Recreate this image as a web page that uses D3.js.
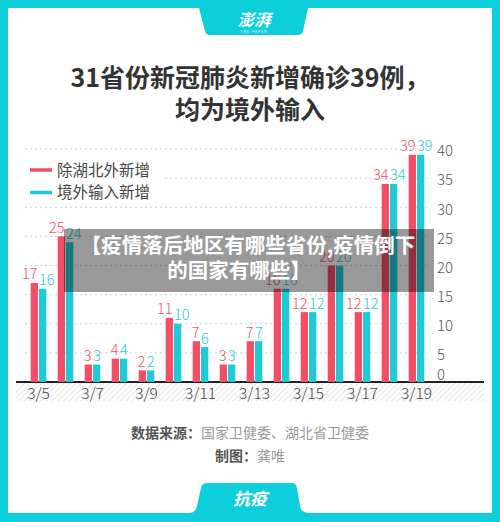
<!DOCTYPE html>
<html><head><meta charset="utf-8">
<script src="https://cdn.jsdelivr.net/npm/d3@7"></script>
<style>body{margin:0;background:#fff}svg{display:block}text{font-family:"Noto Sans CJK SC","Noto Sans",sans-serif}</style>
</head><body><svg id="c" width="500" height="522"></svg>
<script>
const dates = ["3/5","3/6","3/7","3/8","3/9","3/10","3/11","3/12","3/13","3/14","3/15","3/16","3/17","3/18","3/19"];
const domesticNew = [17,25,3,4,2,11,7,3,7,16,12,20,12,34,39];
const importedNew = [16,24,3,4,2,10,6,3,7,16,12,20,12,34,39];
const seriesNames = ["除湖北外新增","境外输入新增"];
const yTicks = [0,5,10,15,20,25,30,35,40];
const xTickLabels = ["3/5","3/7","3/9","3/11","3/13","3/15","3/17","3/19"];

const RED="#f24f66", CYAN="#1fcad6", FRAME="#0ccfdb";
const svg=d3.select("#c");
const defs=svg.append("defs");
const pat=defs.append("pattern").attr("id","hatch").attr("patternUnits","userSpaceOnUse").attr("width",4).attr("height",4).attr("patternTransform","rotate(45)");
pat.append("line").attr("x1",0).attr("y1",0).attr("x2",0).attr("y2",4).attr("stroke","#d4d4d4").attr("stroke-width",1.2);

// frame
svg.append("rect").attr("width",500).attr("height",522).attr("fill",FRAME);
svg.append("rect").attr("x",8).attr("y",8).attr("width",484).attr("height",505).attr("fill","#fff");
// top tab
svg.append("path").attr("d","M199,8 L308,8 L303,31 Q302,35 298,35 L210,35 Q206,35 205,31 Z").attr("fill",FRAME);
svg.append("text").attr("x",254).attr("y",25.5).attr("text-anchor","middle").attr("fill","#fff").attr("font-size",16.5).attr("font-weight","bold").attr("font-style","italic").text("澎湃");
svg.append("text").attr("x",254).attr("y",33).attr("text-anchor","middle").attr("fill","#fff").attr("font-size",3.5).attr("letter-spacing",1).text("THE PAPER");
// bottom tab
svg.append("path").attr("d","M190,513 Q196,512 197,506 L201,488 Q202,483 207,483 L292,483 Q296,483 297,488 L300,506 Q301,512 308,513 Z").attr("fill",FRAME);
svg.append("text").attr("x",250).attr("y",505).attr("text-anchor","middle").attr("fill","#fff").attr("font-size",17).attr("font-weight","bold").attr("font-style","italic").text("抗疫");

// title
svg.append("text").attr("x",250).attr("y",87).attr("text-anchor","middle").attr("fill","#333").attr("font-size",25).attr("font-weight","bold").text("31省份新冠肺炎新增确诊39例，");
svg.append("text").attr("x",250).attr("y",119).attr("text-anchor","middle").attr("fill","#333").attr("font-size",25).attr("font-weight","bold").text("均为境外输入");

// scales
const x=d3.scaleBand().domain(dates).range([25,430]).padding(0);
const y=d3.scaleLinear().domain([0,40]).range([382,149]);
const xs=d3.scaleBand().domain(seriesNames).range([-7.8,7.8]).paddingInner(0.12);

// hatch + gridlines
svg.append("rect").attr("x",16).attr("y",382).attr("width",468).attr("height",19).attr("fill","url(#hatch)");
svg.append("g").selectAll("line").data(yTicks.filter(d=>d>0)).join("line")
 .attr("x1",25).attr("x2",430).attr("y1",d=>y(d)).attr("y2",d=>y(d))
 .attr("stroke","#cfcfcf").attr("stroke-width",1).attr("stroke-dasharray","2,3");

// y axis (right)
const ya=svg.append("g").attr("transform","translate(437,0)").call(d3.axisRight(y).tickValues(yTicks).tickSize(0).tickPadding(0));
ya.select(".domain").remove();
ya.selectAll("text").attr("font-size",15).attr("fill","#555").attr("font-weight",300).attr("font-family","'Liberation Sans',sans-serif")
 .attr("dy",d=>d===0?"-0.2em":"0.45em").attr("text-anchor","start");

// x axis
const xa=svg.append("g").attr("transform","translate(0,382)").call(d3.axisBottom(x).tickValues(xTickLabels).tickSize(0).tickPadding(6));
xa.select(".domain").remove();
xa.selectAll("text").attr("font-size",15.5).attr("fill","#444").attr("font-weight",300).attr("font-family","'Liberation Sans',sans-serif");
svg.append("line").attr("x1",16).attr("x2",484).attr("y1",382).attr("y2",382).attr("stroke","#222").attr("stroke-width",2);

// legend
const lg=svg.append("g");
lg.append("rect").attr("x",25).attr("y",160).attr("width",140).attr("height",42).attr("fill","#fff");
[RED,CYAN].forEach((c,i)=>{
  const yy=170+i*22.5;
  lg.append("line").attr("x1",30).attr("x2",52).attr("y1",yy).attr("y2",yy).attr("stroke",c).attr("stroke-width",3.5);
  lg.append("text").attr("x",57).attr("y",yy).attr("dy","0.36em").attr("font-size",15.5).attr("fill","#444").text(seriesNames[i]);
});

// bars
const seriesData=[domesticNew,importedNew];
const colors=[RED,CYAN];
seriesData.forEach((vals,si)=>{
  const g=svg.append("g");
  const dat=dates.map((d,i)=>({d,v:vals[i]}));
  g.selectAll("rect").data(dat).join("rect")
   .attr("x",d=>x(d.d)+x.bandwidth()/2+xs(seriesNames[si]))
   .attr("width",xs.bandwidth())
   .attr("y",d=>y(d.v)).attr("height",d=>y(0)-y(d.v)).attr("fill",colors[si]);
  g.selectAll("text").data(dat).join("text")
   .attr("x",d=>x(d.d)+x.bandwidth()/2+(si===0?-1:0.5))
   .attr("y",d=>y(d.v)-3.5)
   .attr("text-anchor",si===0?"end":"start")
   .attr("font-size",14.5).attr("font-weight",300).attr("font-family","'Liberation Sans',sans-serif")
   .attr("fill",colors[si]).text(d=>d.v);
});

// source
const s1=svg.append("text").attr("x",250).attr("y",438).attr("text-anchor","middle").attr("font-size",14);
s1.append("tspan").attr("fill","#555").attr("font-weight","bold").text("数据来源：");
s1.append("tspan").attr("fill","#999").text("国家卫健委、湖北省卫健委");
const s2=svg.append("text").attr("x",250).attr("y",461).attr("text-anchor","middle").attr("font-size",14);
s2.append("tspan").attr("fill","#555").attr("font-weight","bold").text("制图：");
s2.append("tspan").attr("fill","#999").text("龚唯");

// overlay
svg.append("rect").attr("x",64).attr("y",229).attr("width",370).attr("height",63).attr("fill","#000").attr("opacity",0.4);
svg.append("text").attr("x",248).attr("y",253).attr("text-anchor","middle").attr("fill","#fff").attr("font-size",20.5).attr("font-weight","bold").text("【疫情落后地区有哪些省份,疫情倒下");
svg.append("text").attr("x",239).attr("y",278).attr("text-anchor","middle").attr("fill","#fff").attr("font-size",20.5).attr("font-weight","bold").text("的国家有哪些】");
</script></body></html>
